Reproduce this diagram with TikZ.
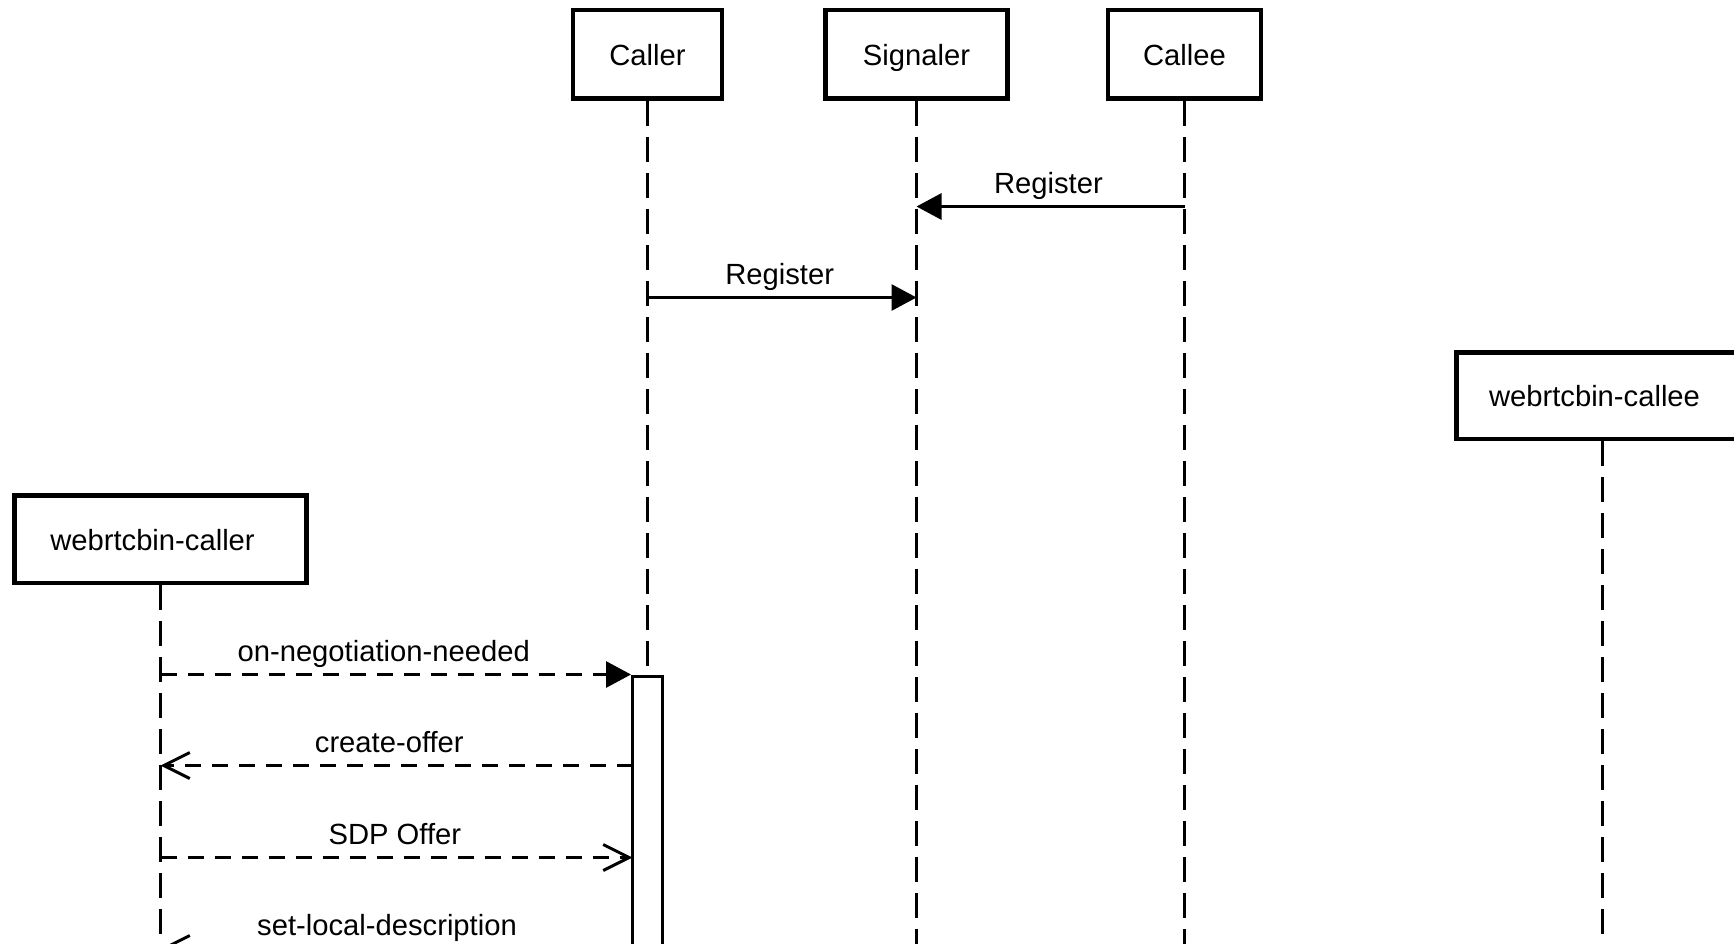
\documentclass[tikz,border=0pt]{standalone}
\usepackage{fontspec}
\setmainfont{Liberation Sans}
\usetikzlibrary{arrows.meta}
\begin{document}
\begin{tikzpicture}[x=1pt,y=-1pt,
  actor/.style={draw, line width=4.6pt, fill=white, inner sep=0pt, text height=22pt, text depth=0pt, font=\fontsize{29.2}{35}\selectfont},
  life/.style={line width=3pt, dash pattern=on 25pt off 11pt},
  msg/.style={line width=3pt},
  dmsg/.style={line width=3pt, dash pattern=on 16pt off 11pt},
  filledhead/.style={-{Triangle[length=25pt,width=26pt]}},
  openhead/.style={-{Straight Barb[length=26pt,width=26pt]}},
  lbl/.style={font=\fontsize{29.2}{35}\selectfont, anchor=base, inner sep=0pt},
  actbar/.style={draw, line width=3pt, fill=white, inner sep=0pt}
]
\useasboundingbox (0,0) rectangle (1734,943);
\clip (0,0) rectangle (1734,943);

% actors
\node[actor, minimum width=149pt, minimum height=88.5pt] (caller) at (647.5,54.2) {Caller};
\node[actor, minimum width=182pt, minimum height=88.5pt] (signaler) at (916.5,54.2) {Signaler};
\node[actor, minimum width=153pt, minimum height=88.5pt] (callee) at (1184.5,54.2) {Callee};
\node[actor, minimum width=292pt, minimum height=87.5pt] (wcaller) at (160.5,539.1) {\hspace*{-16pt}webrtcbin-caller};
\node[actor, minimum width=292pt, minimum height=86.5pt] (wcallee) at (1602.5,395.9) {\hspace*{-16pt}webrtcbin-callee};

% lifeline ends
\coordinate (callerEnd) at (647.5,674.5);
\coordinate (signalerEnd) at (916.5,960);
\coordinate (calleeEnd) at (1184.5,960);
\coordinate (wcallerEnd) at (160.5,960);
\coordinate (wcalleeEnd) at (1602.5,960);

\draw[life] (caller.south) -- (callerEnd);
\draw[life] (signaler.south) -- (signalerEnd);
\draw[life] (callee.south) -- (calleeEnd);
\draw[life] (wcaller.south) -- (wcallerEnd);
\draw[life] (wcallee.south) -- (wcalleeEnd);

% activation bar on Caller
\node[actbar, anchor=north, minimum width=30pt, minimum height=320pt] (act) at (647.5,674.5) {};

% message end points
\coordinate (r1a) at (1184.5,206.5);
\coordinate (r1b) at (916.5,206.5);
\coordinate (r2a) at (647.5,297.5);
\coordinate (r2b) at (916.5,297.5);
\coordinate (m1a) at (160.5,674.5);
\coordinate (m2a) at (632.5,765.5);
\coordinate (m2b) at (160.5,765.5);
\coordinate (m3a) at (160.5,857.5);
\coordinate (m3b) at (632.5,857.5);
\coordinate (m4a) at (632.5,948.5);
\coordinate (m4b) at (160.5,948.5);

% messages
\draw[msg, filledhead] (r1a) -- (r1b);
\node[lbl] (l1) at (1048.4,193) {Register};

\draw[msg, filledhead] (r2a) -- (r2b);
\node[lbl] (l2) at (779.7,284.5) {Register};

\draw[dmsg, filledhead] (m1a) -- (act.north west);
\node[lbl] (l3) at (383.7,661.6) {on-negotiation-needed};

\draw[dmsg, openhead] (m2a) -- (m2b);
\node[lbl] (l4) at (389.3,752.3) {create-offer};

\draw[dmsg, openhead] (m3a) -- (m3b);
\node[lbl] (l5) at (394.8,844) {SDP Offer};

\draw[dmsg, openhead] (m4a) -- (m4b);
\node[lbl] (l6) at (387,935) {set-local-description};
\end{tikzpicture}
\end{document}
